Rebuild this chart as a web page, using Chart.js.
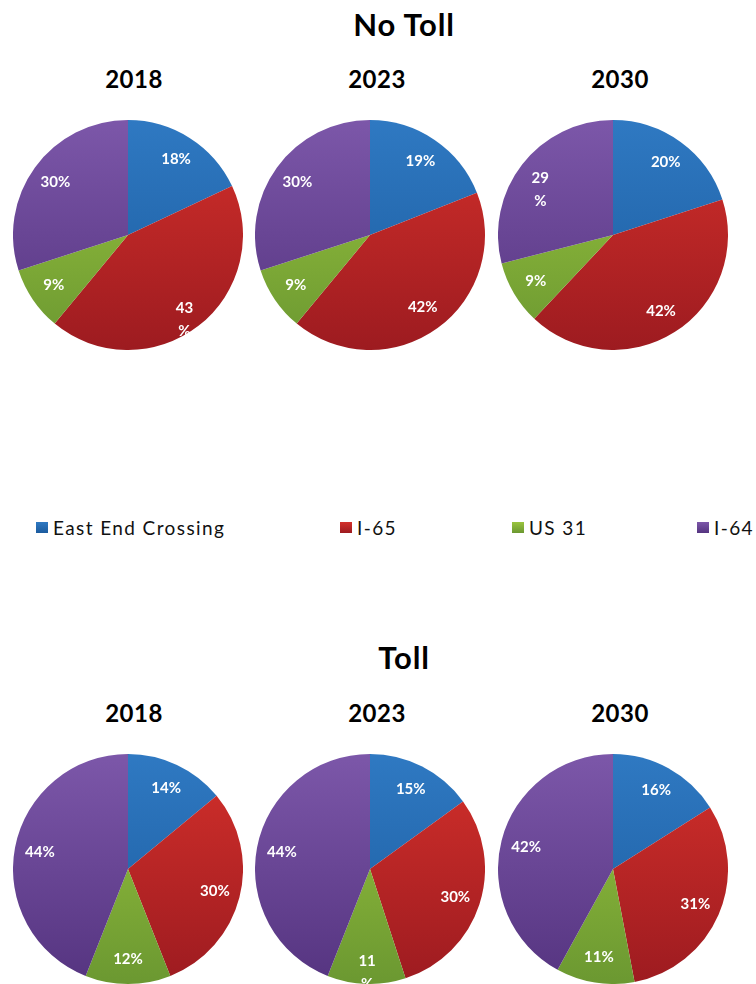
<!DOCTYPE html>
<html>
<head>
<meta charset="utf-8">
<script src="https://cdn.jsdelivr.net/npm/chart.js@4/dist/chart.umd.min.js"></script>
<style>
  html, body { margin:0; padding:0; background:#fff; width:756px; height:984px; overflow:hidden; }
  body { position:relative; font-family: Lato, "Open Sans", sans-serif; }
  .title { position:absolute; transform:translate(-50%,-50%); font-weight:bold; color:#000; white-space:nowrap; line-height:1; }
  .main { font-size:31px; letter-spacing:0.8px; }
  .year { font-size:24px; letter-spacing:0.5px; }
  canvas { position:absolute; }
  .leg { position:absolute; font-size:19px; letter-spacing:1.4px; color:#111; white-space:nowrap; line-height:1; }
  .sw { position:absolute; width:12px; height:11px; }
</style>
</head>
<body>
<script>
// ---- data ----
const categories = ["East End Crossing", "I-65", "US 31", "I-64"];
const years = ["2018", "2023", "2030"];
const groupTitles = ["No Toll", "Toll"];
const noToll2018 = [18, 43, 9, 30];
const noToll2023 = [19, 42, 9, 30];
const noToll2030 = [20, 42, 9, 29];
const toll2018 = [14, 30, 12, 44];
const toll2023 = [15, 30, 11, 44];
const toll2030 = [16, 31, 11, 42];
// labels that wrap onto two lines in the original (group-chart-slice)
const wrapped = { "0-0-1": true, "0-2-3": true, "1-1-2": true };

const groups = [[noToll2018, noToll2023, noToll2030], [toll2018, toll2023, toll2030]];

const colorTop = ["#2f79c2", "#d3302b", "#9ac43e", "#7c57a9"];
const colorBot = ["#1b5b9e", "#9d1b20", "#6b9831", "#553480"];
const colorMid = ["#2569b0", "#b82326", "#84b037", "#684595"];

const layout = {
  centersX: [128, 370, 613],
  centersY: [235, 869],
  radius: 115,
  titleY: [24, 657],
  yearY: [79, 713],
  yearX: [134, 377, 620]
};

function addText(cls, text, x, y) {
  const d = document.createElement('div');
  d.className = 'title ' + cls;
  d.textContent = text;
  d.style.left = x + 'px';
  d.style.top = y + 'px';
  document.body.appendChild(d);
}

const labelPlugin = {
  id: 'sliceLabels',
  afterDatasetsDraw(chart) {
    const c = chart.ctx;
    const meta = chart.getDatasetMeta(0);
    const key = chart.options.plugins.sliceLabels.key;
    c.save();
    c.fillStyle = '#fff';
    c.font = 'bold 15px Lato, "Open Sans", sans-serif';
    c.textAlign = 'center';
    c.textBaseline = 'middle';
    meta.data.forEach((arc, i) => {
      const p = arc.getProps(['x','y','startAngle','endAngle','outerRadius'], true);
      const mid = (p.startAngle + p.endAngle) / 2;
      const isWrapped = wrapped[key + '-' + i];
      const r = p.outerRadius * (isWrapped ? 0.8 : 0.78);
      const x = p.x + Math.cos(mid) * r;
      const y = p.y + Math.sin(mid) * r;
      const v = chart.data.datasets[0].data[i];
      if (isWrapped) {
        c.fillText(String(v), x, y);
        c.fillText('%', x, y + 23);
      } else {
        c.fillText(v + '%', x, y);
      }
    });
    c.restore();
  }
};

function sliceColor(ctx) {
  const i = ctx.dataIndex;
  const chart = ctx.chart;
  const area = chart.chartArea;
  if (!area || i === undefined) return colorMid[i || 0];
  const g = chart.ctx.createLinearGradient(0, area.top, 0, area.bottom);
  g.addColorStop(0, colorTop[i]);
  g.addColorStop(1, colorBot[i]);
  return g;
}

groups.forEach((grp, gi) => {
  addText('main', groupTitles[gi], 404, layout.titleY[gi]);
  grp.forEach((vals, yi) => {
    addText('year', years[yi], layout.yearX[yi], layout.yearY[gi]);
    const cv = document.createElement('canvas');
    const size = layout.radius * 2;
    cv.width = size; cv.height = size;
    cv.style.width = size + 'px'; cv.style.height = size + 'px';
    cv.style.left = (layout.centersX[yi] - layout.radius) + 'px';
    cv.style.top = (layout.centersY[gi] - layout.radius) + 'px';
    document.body.appendChild(cv);
    new Chart(cv, {
      type: 'pie',
      data: {
        labels: categories,
        datasets: [{
          data: vals,
          backgroundColor: sliceColor,
          borderWidth: 0
        }]
      },
      options: {
        responsive: false,
        animation: false,
        layout: { padding: 0 },
        plugins: {
          legend: { display: false },
          tooltip: { enabled: false },
          sliceLabels: { key: gi + '-' + yi }
        }
      },
      plugins: [labelPlugin]
    });
  });
});

// legend
const legendX = [36, 340, 512, 697];
categories.forEach((name, i) => {
  const sw = document.createElement('div');
  sw.className = 'sw';
  sw.style.left = legendX[i] + 'px';
  sw.style.top = '522px';
  sw.style.background = `linear-gradient(${colorTop[i]}, ${colorBot[i]})`;
  document.body.appendChild(sw);
  const t = document.createElement('div');
  t.className = 'leg';
  t.textContent = name;
  t.style.left = (legendX[i] + 17) + 'px';
  t.style.top = '518px';
  document.body.appendChild(t);
});
</script>
</body>
</html>
